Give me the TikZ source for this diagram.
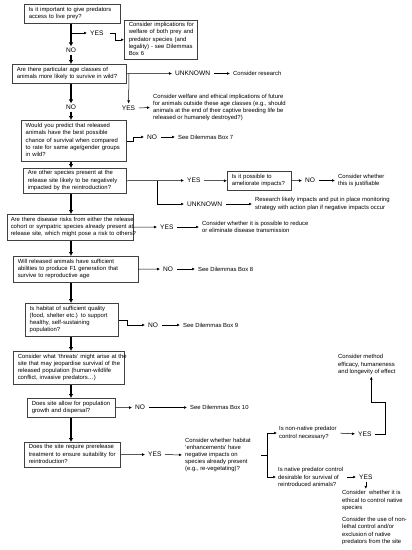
\documentclass[tikz,border=0pt]{standalone}
\usepackage{fontspec}
\setmainfont{Liberation Sans}
\usetikzlibrary{arrows.meta}

\newcommand{\smalltext}{\fontsize{5.9}{7.2}\selectfont}
\newcommand{\labeltext}{\fontsize{6.6}{7.5}\selectfont}
\newcommand{\qlines}[1]{\begin{tabular}{@{}l@{}}#1\end{tabular}}

\tikzset{
	qbox/.style={draw=black!75, line width=0.5pt, anchor=north west, inner xsep=4.5pt, inner ysep=0pt, align=left, font=\smalltext},
	note/.style={anchor=west, inner sep=0pt, align=left, font=\smalltext},
	lbl/.style={inner sep=0pt, font=\labeltext},
	flow/.style={-{Latex[length=4pt,width=4.5pt]}, line width=1.4pt},
	link/.style={-{Latex[length=3pt,width=2.8pt]}, line width=0.5pt},
	wire/.style={line width=0.5pt},
	fromlbl/.style={shorten <=3.5pt},
	tolbl/.style={shorten >=3pt}
}

\begin{document}
\begin{tikzpicture}[x=1pt,y=-1pt]
		\useasboundingbox (0,0) rectangle (412,550);
		\coordinate (spine) at (71,0);
		% question boxes down the left
		\node[qbox, text width=87pt, minimum height=19pt] (b1) at (24,4) {\qlines{Is it important to give predators\\access to live prey?}};
		\node[qbox, text width=64pt, minimum height=39pt] (b2) at (124,20) {\qlines{Consider implications for\\welfare of both prey and\\predator species (and\\legality) - see Dilemmas\\Box 6}};
		\node[qbox, text width=105pt, minimum height=19pt] (b3) at (12,64) {\qlines{Are there particular age classes of\\animals more likely to survive in wild?}};
		\node[qbox, text width=96pt, minimum height=41pt] (b4) at (21,120) {\qlines{Would you predict that released\\animals have the best possible\\chance of survival when compared\\to rate for same age/gender groups\\in wild?}};
		\node[qbox, text width=94pt, minimum height=25pt] (b5) at (23,168) {\qlines{Are other species present at the\\release site likely to be negatively\\impacted by the reintroduction?}};
		\node[qbox, inner xsep=3.5pt, text width=119pt, minimum height=26pt] (b6) at (7,214) {\qlines{Are there disease risks from either the release\\cohort or sympatric species already present at\\release site, which might pose a risk to others?}};
		\node[qbox, text width=116pt, minimum height=26pt] (b7) at (13,256) {\qlines{Will released animals have sufficient\\abilities to produce F1 generation that\\survive to reproductive age}};
		\node[qbox, text width=84pt, minimum height=33pt] (b8) at (25,303) {\qlines{Is habitat of sufficient quality\\(food, shelter etc.) to support\\healthy, self-sustaining\\population?}};
		\node[qbox, text width=102pt, minimum height=33pt] (b9) at (13,351) {\qlines{Consider what `threats' might arise at the\\site that may jeopardise survival of the\\released population (human-wildlife\\conflict, invasive predators…)}};
		\node[qbox, text width=79pt, minimum height=19pt] (b10) at (27,398) {\qlines{Does site allow for population\\growth and dispersal?}};
		\node[qbox, text width=87pt, minimum height=25pt] (b11) at (24,442) {\qlines{Does the site require prerelease\\treatment to ensure suitability for\\reintroduction?}};
		\node[qbox, text width=55pt, minimum height=19pt] (b12) at (227,171) {\qlines{Is it possible to\\ameliorate impacts?}};
		% answers
		\node[lbl, anchor=west] (y1) at (90,33) {YES};
		\node[lbl] (n1) at (71,50) {NO};
		\node[lbl, anchor=west] (unk1) at (175,73.5) {UNKNOWN};
		\node[lbl] (y2) at (128.5,108) {YES};
		\node[lbl] (n2) at (71,107) {NO};
		\node[lbl, anchor=west] (n3) at (147,137) {NO};
		\node[lbl, anchor=west] (y3) at (187,180.5) {YES};
		\node[lbl, anchor=west] (unk2) at (187,204) {UNKNOWN};
		\node[lbl, anchor=west] (n4) at (305,180.5) {NO};
		\node[lbl, anchor=west] (y4) at (160,227) {YES};
		\node[lbl, anchor=west] (n5) at (163,269) {NO};
		\node[lbl, anchor=west] (n6) at (148,325) {NO};
		\node[lbl, anchor=west] (n7) at (135,407.5) {NO};
		\node[lbl, anchor=west] (y5) at (148,454.5) {YES};
		\node[lbl, anchor=west] (y6) at (358,434) {YES};
		\node[lbl, anchor=west] (y7) at (359,477) {YES};
		% outcomes
		\node[note] (tresearch) at (233,73.5) {Consider research};
		\node[note] (twelfare) at (153,107.5) {Consider welfare and ethical implications of future\\for animals outside these age classes (e.g., should\\animals at the end of their captive breeding life be\\released or humanely destroyed?)};
		\node[note] (tbox7) at (178,137) {See Dilemmas Box 7};
		\node[note] (tjustify) at (338,180.5) {Consider whether\\this is justifiable};
		\node[note] (tmonitor) at (255,204) {Research likely impacts and put in place monitoring\\strategy with action plan if negative impacts occur};
		\node[note] (tdisease) at (202,227) {Consider whether it is possible to reduce\\or eliminate disease transmission};
		\node[note] (tbox8) at (198,269) {See Dilemmas Box 8};
		\node[note] (tbox9) at (183,325) {See Dilemmas Box 9};
		\node[note] (tbox10) at (190,407.5) {See Dilemmas Box 10};
		\node[note] (thabitat) at (185,455) {Consider whether habitat\\`enhancements' have\\negative impacts on\\species already present\\(e.g., re-vegetating)?};
		\node[note] (tnonnative) at (279,433) {Is non-native predator\\control necessary?};
		\node[note] (tmethod) at (338,364.5) {Consider method\\efficacy, humaneness\\and longevity of effect};
		\node[note] (tnative) at (278,477) {Is native predator control\\desirable for survival of\\reintroduced animals?};
		\node[note] (tethical) at (342,500.5) {Consider\ \ whether it is\\ethical to control native\\species};
		\node[note] (tnonlethal) at (342,531) {Consider the use of non-\\lethal control and/or\\exclusion of native\\predators from the site};
		\coordinate (fork) at (267,455);

		% main flow
		\draw[flow, shorten >=1pt] (b1.south -| spine) -- (n1.north);
		\draw[flow, shorten <=2pt] (n1.south) -- (b3.north -| spine);
		\draw[flow, shorten >=1pt] (b3.south -| spine) -- (n2.north);
		\draw[flow, shorten <=2pt] (n2.south) -- (b4.north -| spine);
		\foreach \a/\b in {b4/b5,b5/b6,b6/b7,b7/b8,b8/b9,b9/b10,b10/b11}{
			\draw[flow] (\a.south -| spine) -- (\b.north -| spine);
		}

		% side branches
		\draw[link, tolbl] (spine |- y1) -- (y1.west);
		\draw[link] ([xshift=6pt]y1.east) -- ++(6,0) |- (b2.west);
		\draw[link, shorten >=2pt] (b3.east) ++(2.5,0) -- (y2.north);
		\draw[link, tolbl] (b4.east) -- ++(7,0) |- (n3.west);
		\draw[link, tolbl] (b5.east) ++(31,0) |- (unk2.west);
		\draw[link, tolbl] (b8.east) -- ++(9,0) |- (n6.west);
		\foreach \a/\b in {b3/unk1,b5/y3,b6/y4,b7/n5,b10/n7,b11/y5,b12/n4}{
			\draw[link, tolbl] (\a.east) -- (\b.west);
		}
		\draw[link, fromlbl] (y3.east) -- (b12.west);
		\foreach \a/\b in {unk1/tresearch,y2/twelfare,n3/tbox7,n4/tjustify,unk2/tmonitor,y4/tdisease,n5/tbox8,n6/tbox9,n7/tbox10,y5/thabitat}{
			\draw[link, fromlbl, tolbl] (\a.east) -- (\b.west);
		}

		% predator control
		\draw[wire] ([xshift=10pt]thabitat.east) -- (fork);
		\draw[link, shorten >=2pt] (fork) |- (tnonnative.west);
		\draw[link, shorten >=2pt] (fork) |- (tnative.west);
		\draw[link, fromlbl, tolbl] (tnonnative.east) -- (y6.west);
		\draw[link, fromlbl, tolbl] (tnative.east) -- (y7.west);
		\draw[link, fromlbl, shorten >=2pt] (y6.east) -- ++(14,0) -- ++(0,-32) -| ([xshift=4.5pt]tmethod.south);
		\draw[link, shorten <=2pt, shorten >=1.5pt] (y7.south) -- (y7.south |- tethical.north);
\end{tikzpicture}
\end{document}
